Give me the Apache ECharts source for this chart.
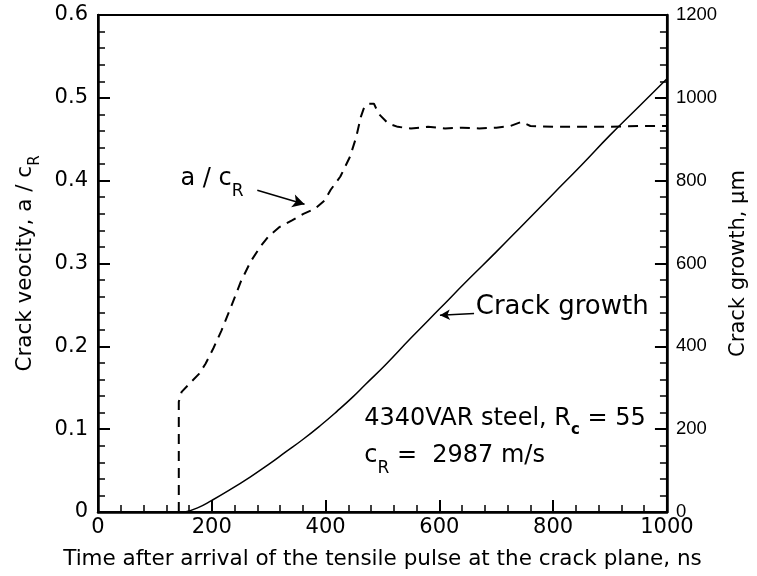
<!DOCTYPE html>
<html><head><meta charset="utf-8">
<script src="https://cdn.jsdelivr.net/npm/echarts@6/dist/echarts.min.js"></script>
<style>html,body{margin:0;padding:0;background:#fff}#c{width:757px;height:576px}</style>
</head><body><div id="c"></div>
<script>
// a / c_R (left axis), time in ns
const velTime = [142,142,147,165,178,189,203,217,234,251,268,285,300,319,341,361,381,398,409,426,443,454,462,468,476,485,493,510,527,550,580,610,640,670,700,725,744,760,800,850,900,950,1000];
const velValue = [0,0.133,0.145,0.158,0.167,0.179,0.198,0.219,0.248,0.278,0.302,0.320,0.333,0.344,0.352,0.360,0.366,0.376,0.389,0.405,0.429,0.453,0.477,0.489,0.493,0.493,0.481,0.469,0.465,0.463,0.465,0.463,0.464,0.463,0.464,0.466,0.471,0.466,0.465,0.465,0.465,0.466,0.466];
// crack growth (right axis), µm
const growthTime = [153,175,200,230,268,300,330,360,392,420,448,470,505,550,600,650,700,750,800,850,900,950,1000];
const growthValue = [0,10,28,52,85,115,145,175,210,243,278,308,355,420,490,560,628,698,768,838,910,978,1046];
const xTicks = [0,200,400,600,800,1000];
const leftTicks = [0,0.1,0.2,0.3,0.4,0.5,0.6];
const rightTicks = [0,200,400,600,800,1000,1200];

const FONT = '"DejaVu Sans", sans-serif';
const FONT2 = '"Liberation Sans", Arial, sans-serif';
const axisLineStyle = {color:'#000', width:2.5};
const chart = echarts.init(document.getElementById('c'));
chart.setOption({
  animation:false,
  backgroundColor:'#fff',
  textStyle:{fontFamily:FONT, color:'#000'},
  grid:{left:98, right:71, top:15, bottom:64, show:true, borderColor:'#000', borderWidth:2},
  xAxis:{type:'value', min:xTicks[0], max:xTicks[xTicks.length-1], interval:200,
    name:'Time after arrival of the tensile pulse at the crack plane, ns', nameLocation:'middle', nameGap:36,
    nameTextStyle:{fontSize:21.5, fontFamily:FONT, color:'#000'},
    axisLine:{lineStyle:axisLineStyle}, axisTick:{inside:true, length:12, lineStyle:{width:2, color:'#000'}},
    minorTick:{show:true, splitNumber:5, length:7, lineStyle:{width:1.5, color:'#000'}},
    splitLine:{show:false}, axisLabel:{fontSize:21, color:'#000', margin:5, fontFamily:FONT, formatter:v=>String(v)}},
  yAxis:[
    {type:'value', min:leftTicks[0], max:leftTicks[leftTicks.length-1], interval:0.1, position:'left',
     name:'Crack veocity, a / c{s|R}', nameLocation:'middle', nameGap:62, nameRotate:90,
     nameTextStyle:{fontSize:21.5, fontFamily:FONT, color:'#000', rich:{s:{fontSize:15, verticalAlign:'bottom', padding:[0,0,-7,0], fontFamily:FONT}}},
     axisLine:{show:true, lineStyle:axisLineStyle}, axisTick:{show:true, inside:true, length:12, lineStyle:{width:2, color:'#000'}},
     minorTick:{show:true, splitNumber:5, length:7, lineStyle:{width:1.5, color:'#000'}},
     splitLine:{show:false},
     axisLabel:{fontSize:21, color:'#000', margin:10, fontFamily:FONT, formatter:v=> v===0?'0':v.toFixed(1)}},
    {type:'value', min:rightTicks[0], max:rightTicks[rightTicks.length-1], interval:200, position:'right',
     name:'Crack growth, µm', nameLocation:'middle', nameGap:48, nameRotate:90,
     nameTextStyle:{fontSize:21, fontFamily:FONT, color:'#000'},
     axisLine:{show:true, lineStyle:axisLineStyle}, axisTick:{show:true, inside:true, length:12, lineStyle:{width:2, color:'#000'}},
     minorTick:{show:true, splitNumber:5, length:7, lineStyle:{width:1.5, color:'#000'}},
     splitLine:{show:false},
     axisLabel:{fontSize:18.5, color:'#000', margin:9, fontFamily:FONT2, formatter:v=>String(v)}}
  ],
  series:[
    {type:'line', yAxisIndex:0, showSymbol:false, smooth:false,
     data:velTime.map((t,i)=>[t,velValue[i]]),
     lineStyle:{color:'#000', width:2, type:[10,7]},
     markLine:{silent:true, symbol:['none','arrow'], symbolSize:[10,12],
       lineStyle:{color:'#000', width:1.5, type:'solid'}, label:{show:false},
       data:[[{coord:[280,0.3885]},{coord:[363,0.3716]}]]},
     markPoint:{silent:true, symbol:'rect', symbolSize:0,
       data:[
        {coord:[145,0.402], label:{show:true, position:'right', distance:0, formatter:'a / c{s|R}', fontSize:24, color:'#000', fontFamily:FONT,
          rich:{s:{fontSize:17, verticalAlign:'bottom', padding:[0,0,-9,0], fontFamily:FONT}}}},
        {coord:[468,0.1127], label:{show:true, position:'right', distance:0, formatter:'4340VAR steel, R{s|c} = 55', fontSize:24, color:'#000', fontFamily:FONT,
          rich:{s:{fontSize:15, fontWeight:'bold', verticalAlign:'bottom', padding:[0,0,-7,0], fontFamily:FONT}}}},
        {coord:[468,0.0673], label:{show:true, position:'right', distance:0, formatter:'c{s|R} =  2987 m/s', fontSize:24, color:'#000', fontFamily:FONT,
          rich:{s:{fontSize:17, verticalAlign:'bottom', padding:[0,0,-9,0], fontFamily:FONT}}}}
       ]}},
    {type:'line', yAxisIndex:1, showSymbol:false, smooth:true,
     data:growthTime.map((t,i)=>[t,growthValue[i]]),
     lineStyle:{color:'#000', width:1.5, type:'solid'},
     markLine:{silent:true, symbol:['none','arrow'], symbolSize:[8,10],
       lineStyle:{color:'#000', width:1.5, type:'solid'}, label:{show:false},
       data:[[{coord:[661,479]},{coord:[601,475]}]]},
     markPoint:{silent:true, symbol:'rect', symbolSize:0,
       data:[{coord:[664,494], label:{show:true, position:'right', distance:0, formatter:'Crack growth', fontSize:26, color:'#000', fontFamily:FONT}}]}}
  ]
});
</script></body></html>
